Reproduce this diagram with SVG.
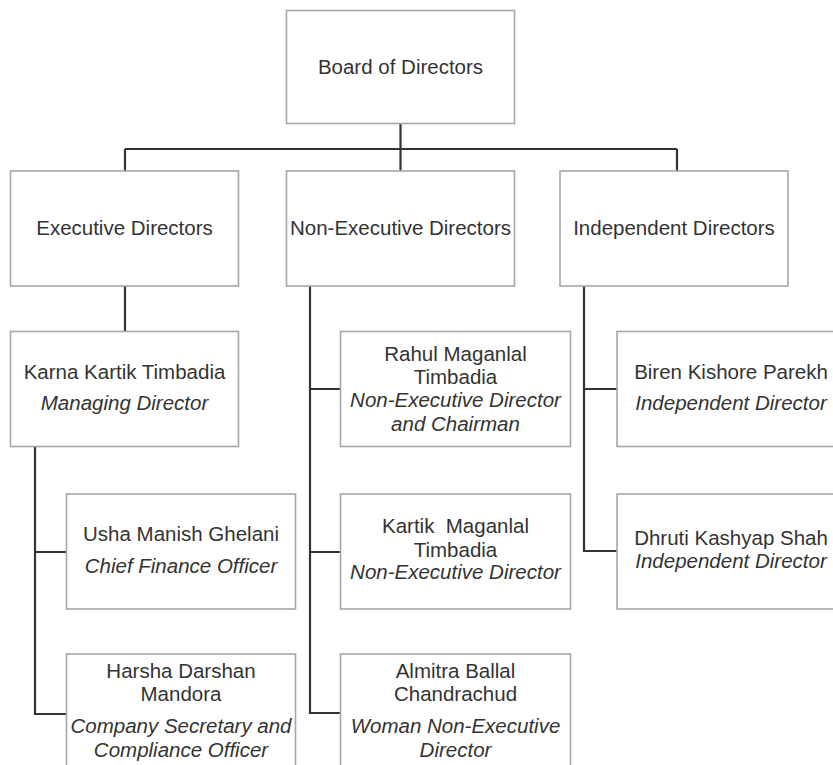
<svg xmlns="http://www.w3.org/2000/svg" width="833" height="765" viewBox="0 0 833 765">
<style>
.box{fill:#ffffff;stroke:#a6a6a6;stroke-width:1.6}
.ln{fill:none;stroke:#333333;stroke-width:2.2}
text{font-family:"Liberation Sans",Arial,sans-serif;font-size:20.5px;fill:#333333;text-anchor:middle}
.i{font-style:italic}
</style>
<rect width="833" height="765" fill="#ffffff"/>
<g id="connectors">
<path class="ln" d="M400.5,123 V149 M125,149 H677 M125,149 V171 M400.5,149 V171 M677,149 V171"/>
<path class="ln" d="M125,286 V331.5"/>
<path class="ln" d="M35,446.5 V714 H66.5 M35,552 H66.5"/>
<path class="ln" d="M310,286 V713 H340.5 M310,389 H340.5 M310,552 H340.5"/>
<path class="ln" d="M584,286 V551 H617 M584,389 H617"/>
</g>
<g id="board"><rect class="box" x="286.5" y="10.5" width="228" height="113"/><text x="400.5" y="74">Board of Directors</text></g>
<g id="exec"><rect class="box" x="10.5" y="171" width="228" height="115"/><text x="124.5" y="235">Executive Directors</text></g>
<g id="nonexec"><rect class="box" x="286.5" y="171" width="228" height="115"/><text x="400.5" y="235">Non-Executive Directors</text></g>
<g id="indep"><rect class="box" x="560" y="171" width="228" height="115"/><text x="674" y="235">Independent Directors</text></g>
<g id="karna"><rect class="box" x="10.5" y="331.5" width="228" height="115"/><text x="124.5" y="379">Karna Kartik Timbadia</text><text class="i" x="124.5" y="410">Managing Director</text></g>
<g id="usha"><rect class="box" x="66.5" y="494" width="229" height="115"/><text x="181" y="541">Usha Manish Ghelani</text><text class="i" x="181" y="573">Chief Finance Officer</text></g>
<g id="harsha"><rect class="box" x="66.5" y="654" width="229" height="120"/><text x="181" y="678">Harsha Darshan</text><text x="181" y="701">Mandora</text><text class="i" x="181" y="733">Company Secretary and</text><text class="i" x="181" y="757">Compliance Officer</text></g>
<g id="rahul"><rect class="box" x="340.5" y="331.5" width="230" height="115"/><text x="455.5" y="361">Rahul Maganlal</text><text x="455.5" y="384">Timbadia</text><text class="i" x="455.5" y="407">Non-Executive Director</text><text class="i" x="455.5" y="431">and Chairman</text></g>
<g id="kartik"><rect class="box" x="340.5" y="494" width="230" height="115"/><text x="455.5" y="533" xml:space="preserve">Kartik  Maganlal</text><text x="455.5" y="557">Timbadia</text><text class="i" x="455.5" y="579">Non-Executive Director</text></g>
<g id="almitra"><rect class="box" x="340.5" y="654" width="230" height="120"/><text x="455.5" y="678">Almitra Ballal</text><text x="455.5" y="701">Chandrachud</text><text class="i" x="455.5" y="733">Woman Non-Executive</text><text class="i" x="455.5" y="757">Director</text></g>
<g id="biren"><rect class="box" x="617" y="331.5" width="230" height="115"/><text x="731" y="379">Biren Kishore Parekh</text><text class="i" x="731" y="410">Independent Director</text></g>
<g id="dhruti"><rect class="box" x="617" y="494" width="230" height="115"/><text x="731" y="545">Dhruti Kashyap Shah</text><text class="i" x="731" y="568">Independent Director</text></g>
</svg>
